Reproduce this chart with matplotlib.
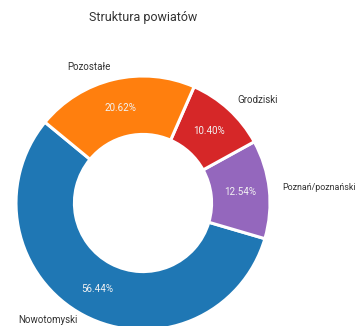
import matplotlib.pyplot as plt

plt.rcParams['font.family'] = ['Roboto', 'DejaVu Sans']

# data
labels = ['Nowotomyski', 'Poznań/poznański', 'Grodziski', 'Pozostałe']
shares = [56.44, 12.54, 10.40, 20.62]
colors = ['#1f77b4', '#9467bd', '#d62728', '#ff7f0e']


def main():
    fig = plt.figure(figsize=(3.59, 3.26), dpi=100)
    ax = fig.add_axes([0, 0, 1, 1])

    wedges, texts, autotexts = ax.pie(
        shares, labels=labels, colors=colors, startangle=140.5,
        autopct='%.2f%%', pctdistance=0.77, labeldistance=1.1,
        wedgeprops=dict(width=0.46, edgecolor='white', linewidth=2.2),
        textprops=dict(fontsize=7, color='#333333'))
    for t in autotexts:
        t.set_color('#f2f2f2')
        t.set_fontsize(7)
    # long label on the right edge, keep it inside the picture
    texts[1].set_fontsize(6.4)
    # bottom label sits on the lower edge, lift it a bit
    x0, y0 = texts[0].get_position()
    texts[0].set_position((x0, -(320 - 203) / 127))

    ax.set_aspect('auto')
    ax.set_xlim(-143 / 127, (359 - 143) / 127)
    ax.set_ylim(-(326 - 203) / 127, 203 / 127)
    ax.axis('off')

    fig.text(143.5 / 359, 1 - 18 / 326, 'Struktura powiatów', ha='center',
             va='center', fontsize=9, color='#333333')

    plt.savefig('out.png', dpi=100)
    plt.clf()


if __name__ == '__main__':
    main()
